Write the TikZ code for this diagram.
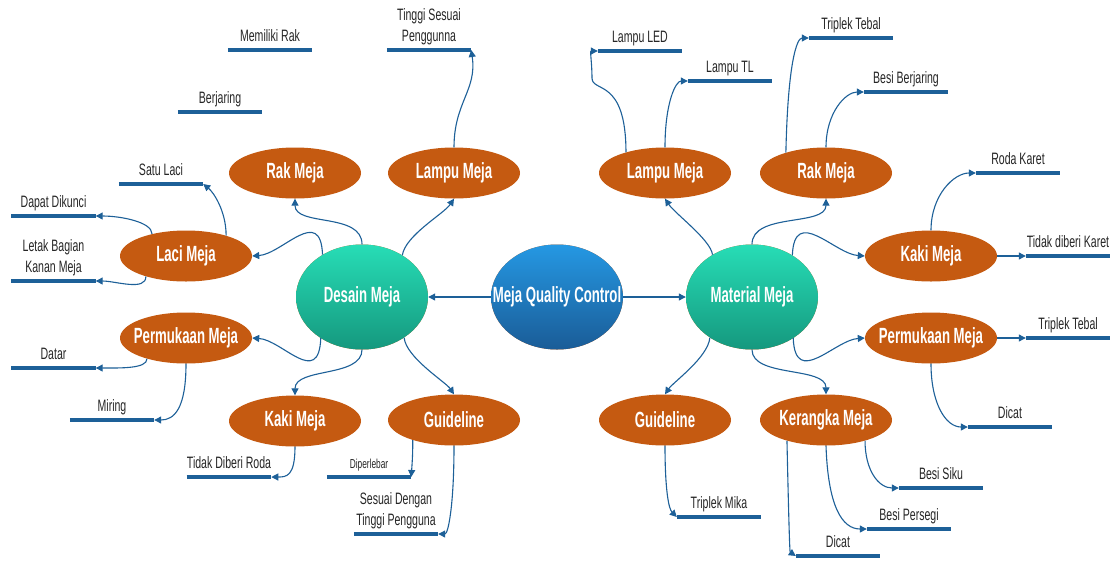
\documentclass[tikz,border=0pt]{standalone}
\usepackage{fontspec}
\setmainfont{Liberation Sans}[FakeStretch=0.64]
\newfontfamily\ovalfont{Liberation Sans}[FakeStretch=0.6]
\usepackage{xcolor}
\usetikzlibrary{shapes.geometric, arrows.meta}

\definecolor{linkblue}{HTML}{1D6098}
\definecolor{ovalorange}{HTML}{C55A11}
\definecolor{greentop}{HTML}{27DDB6}
\definecolor{greenbottom}{HTML}{15987E}
\definecolor{bluetop}{HTML}{2598E3}
\definecolor{bluebottom}{HTML}{1A5C97}
\definecolor{leaftext}{HTML}{262626}

\begin{document}
\begin{tikzpicture}[
  x=1pt, y=-1pt,
  topicbox/.style={ellipse, fill=ovalorange, minimum width=132pt, minimum height=51pt, inner xsep=-20pt, text=white, font=\ovalfont\bfseries\fontsize{22}{26}\selectfont},
  branchbox/.style={topicbox, minimum height=105pt, top color=greentop, bottom color=greenbottom},
  rootbox/.style={topicbox, minimum height=105pt, top color=bluetop, bottom color=bluebottom},
  leafbox/.style={anchor=south, minimum width=84pt, inner xsep=0pt, inner ysep=1pt, text depth=7pt, align=center, text=leaftext, font=\fontsize{16.5}{21}\selectfont},
  barline/.style={draw=linkblue, line width=4pt},
  link/.style={-{Triangle[length=7pt,width=7pt]}, draw=linkblue, line width=1.1pt}
]
\fill[white] (0,0) rectangle (1116,563);
\useasboundingbox (0,0) rectangle (1116,563);

% Nodes
\node[rootbox] (mqc) at (557,297) {Meja Quality Control};
\node[branchbox] (desain) at (362,297) {Desain Meja};
\node[branchbox] (material) at (752,297) {Material Meja};

\node[topicbox] (rakL) at (295,173) {Rak Meja};
\node[topicbox] (lampuL) at (454,173) {Lampu Meja};
\node[topicbox] (laciL) at (186,256) {Laci Meja};
\node[topicbox] (permL) at (186,338) {Permukaan Meja};
\node[topicbox] (kakiL) at (295,421) {Kaki Meja};
\node[topicbox] (guideL) at (454,420) {Guideline};

\node[topicbox] (lampuR) at (665,173) {Lampu Meja};
\node[topicbox] (rakR) at (826,173) {Rak Meja};
\node[topicbox] (kakiR) at (931,256) {Kaki Meja};
\node[topicbox] (permR) at (931,338) {Permukaan Meja};
\node[topicbox] (guideR) at (665,420) {Guideline};
\node[topicbox] (kerangka) at (826,420) {Kerangka Meja};

% Leaves
\node[leafbox] (memiliki) at (270,50) {Memiliki Rak};
\node[leafbox] (tinggi) at (429,50) {Tinggi Sesuai\\Penggunna};
\node[leafbox] (berjaring) at (220,112) {Berjaring};
\node[leafbox] (satu) at (161,184) {Satu Laci};
\node[leafbox] (dapat) at (53.5,216) {Dapat Dikunci};
\node[leafbox] (letak) at (53.5,281) {Letak Bagian\\Kanan Meja};
\node[leafbox] (datar) at (53.5,368) {Datar};
\node[leafbox] (miring) at (112,420) {Miring};
\node[leafbox] (tidakRoda) at (229,477) {Tidak Diberi Roda};
\node[leafbox, font=\fontsize{13}{15}\selectfont] (diperlebar) at (369,477) {Diperlebar};
\node[leafbox] (sesuai) at (396,534) {Sesuai Dengan\\Tinggi Pengguna};

\node[leafbox] (led) at (640,51) {Lampu LED};
\node[leafbox] (tl) at (730,81) {Lampu TL};
\node[leafbox] (tripTop) at (851,38) {Triplek Tebal};
\node[leafbox] (besiJaring) at (906,92) {Besi Berjaring};
\node[leafbox] (roda) at (1018,173) {Roda Karet};
\node[leafbox] (tidakKaret) at (1068,256) {Tidak diberi Karet};
\node[leafbox] (tripR) at (1068,338) {Triplek Tebal};
\node[leafbox] (dicatR) at (1010,427) {Dicat};
\node[leafbox] (mika) at (719,517) {Triplek Mika};
\node[leafbox] (siku) at (941,488) {Besi Siku};
\node[leafbox] (persegi) at (909,529) {Besi Persegi};
\node[leafbox] (dicatB) at (838,556) {Dicat};

\foreach \n in {memiliki, tinggi, berjaring, satu, dapat, letak, datar, miring, tidakRoda, diperlebar, sesuai,
  led, tl, tripTop, besiJaring, roda, tidakKaret, tripR, dicatR, mika, siku, persegi, dicatB}
  \draw[barline] (\n.south west) -- (\n.south east);

% Connections
\draw[link] (mqc.west) -- (desain.east);
\draw[link] (mqc.east) -- (material.west);

\draw[link] (desain.north) .. controls +(0,-32) and +(0,28) .. (rakL.south);
\draw[link] (desain.133) .. controls +(-2,-50) and +(30,-2) .. (laciL.east);
\draw[link] (desain.46) .. controls +(3,-20) and +(-10,15) .. (lampuL.south);
\draw[link] (desain.225) .. controls +(-2,50) and +(30,2) .. (permL.east);
\draw[link] (desain.south) .. controls +(0,28) and +(0,-28) .. (kakiL.north);
\draw[link] (desain.316) .. controls +(2,20) and +(-8,-12) .. (guideL.north);

\draw[link] (lampuL.north) .. controls +(0,-45) and +(6,40) .. (tinggi.south east);
\draw[link] (laciL.27) .. controls +(0,-25) and +(10,8) .. (satu.south east);
\draw[link] (laciL.147) .. controls +(0,-12) and +(25,0) .. (dapat.south east);
\draw[link] (laciL.207) .. controls +(0,15) and +(20,0) .. (letak.south east);
\draw[link] (permL.208) .. controls +(0,10) and +(25,0) .. (datar.south east);
\draw[link] (permL.south) .. controls +(0,45) and +(20,0) .. (miring.south east);
\draw[link] (kakiL.south) .. controls +(0,30) and +(15,0) .. (tidakRoda.south east);
\draw[link] (guideL.206) .. controls +(0,15) and +(1,-15) .. (diperlebar.south east);
\draw[link] (guideL.south) .. controls +(0,60) and +(10,0) .. (sesuai.south east);

\draw[link] (material.133) .. controls +(-2,-15) and +(10,15) .. (lampuR.south);
\draw[link] (material.north) .. controls +(0,-32) and +(0,28) .. (rakR.south);
\draw[link] (material.46) .. controls +(2,-50) and +(-30,-2) .. (kakiR.west);
\draw[link] (material.315) .. controls +(2,50) and +(-30,2) .. (permR.west);
\draw[link] (material.south) .. controls +(0,28) and +(0,-28) .. (kerangka.north);
\draw[link] (material.224) .. controls +(-2,20) and +(8,-12) .. (guideR.north);

\coordinate (ledbend) at (592,78);
\draw[link] (lampuR.152) .. controls +(0,-75) and +(0,15) .. (ledbend) .. controls +(0,-15) and +(-8,0) .. (led.south west);
\draw[link] (lampuR.north) .. controls +(0,-45) and +(-12,0) .. (tl.south west);
\draw[link] (rakR.153) .. controls +(2,-90) and +(-12,0) .. (tripTop.south west);
\draw[link] (rakR.north) .. controls +(0,-35) and +(-18,0) .. (besiJaring.south west);
\draw[link] (kakiR.north) .. controls +(0,-35) and +(-22,0) .. (roda.south west);
\draw[link] (kakiR.east) -- (tidakKaret.south west);
\draw[link] (permR.east) -- (tripR.south west);
\draw[link] (permR.south) .. controls +(0,40) and +(-22,0) .. (dicatR.south west);
\draw[link] (guideR.south) .. controls +(0,45) and +(-8,-8) .. (mika.south west);
\draw[link] (kerangka.332) .. controls +(0,30) and +(-20,0) .. (siku.south west);
\draw[link] (kerangka.south) .. controls +(2,60) and +(-25,0) .. (persegi.south west);
\draw[link] (kerangka.208) .. controls +(2,90) and +(-6,-4) .. (dicatB.south west);

\end{tikzpicture}
\end{document}
